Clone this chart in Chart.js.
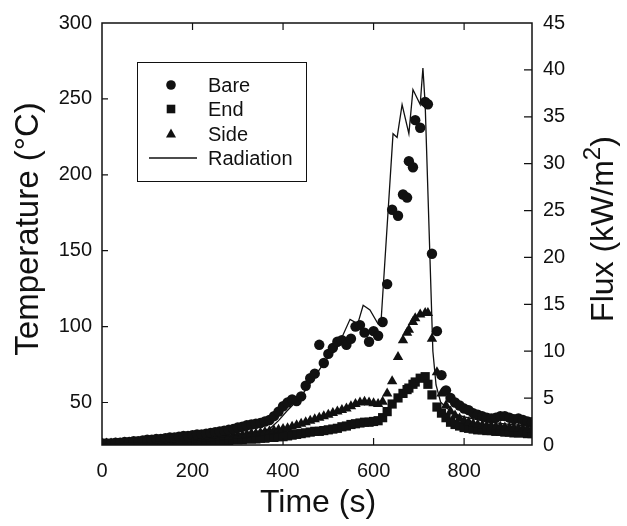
<!DOCTYPE html>
<html lang="en">
<head>
<meta charset="UTF-8">
<title>Temperature and radiation</title>
<style>
  body { margin: 0; background: #fff; }
  #wrap { width: 627px; height: 526px; }
</style>
</head>
<body>
<div id="wrap"><canvas id="myChart" width="627" height="526"></canvas></div>

<script src="https://cdn.jsdelivr.net/npm/chart.js"></script>
<script>
// thermocouple readings, time in s
let v_time = [0, 10, 20, 30, 40, 50, 60, 70, 80, 90, 100, 110, 120, 130, 140, 150, 160, 170, 180, 190,
    200, 210, 220, 230, 240, 250, 260, 270, 280, 290, 300, 310, 320, 330, 340, 350, 360, 370, 380, 390,
    400, 410, 420, 430, 440, 450, 460, 470, 480, 490, 500, 510, 520, 530, 540, 550, 560, 570, 580, 590,
    600, 610, 620, 630, 641, 654, 665, 674, 678, 687, 692, 703, 714, 720, 729,
    740, 750, 760, 770, 780, 790, 800, 810, 820, 830, 840, 850, 860, 870, 880, 890, 900, 910, 920, 930, 940, 950];

let v_bare = [23, 23, 23, 23.5, 23.5, 24, 24, 24.5, 24.5, 25, 25.5, 25.5, 26, 26, 26.5, 27, 27, 27.5, 28, 28,
    28.5, 29, 29, 29.5, 30, 30.5, 31, 31.5, 32, 32.5, 33.5, 34, 35, 35.5, 36, 36.5, 37.5, 38.5, 41, 44,
    47.5, 50, 52, 51, 54, 61, 66, 69, 88, 76, 82, 86, 90, 91, 88, 92, 100, 101, 96, 90,
    97, 94, 103, 128, 177, 173, 187, 185, 209, 205, 236, 231, 248, 246.5, 148,
    97, 68, 58, 53, 50, 48, 46, 45, 43, 42, 41, 40, 39.5, 40, 41, 41, 40, 39, 39.5, 38.5, 37.5, 37];

let v_end = [23, 23, 23, 23, 23, 23, 23, 23, 23, 23, 23, 23, 23.5, 23.5, 23.5, 23.5, 23.5, 24, 24, 24,
    24, 24, 24.5, 24.5, 24.5, 24.5, 25, 25, 25, 25.5, 25.5, 25.5, 26, 26, 26, 26.5, 26.5, 27, 27, 27.5,
    27.5, 28, 28.5, 29, 29.5, 30, 30.5, 31, 31, 31.5, 32, 32.5, 33, 34, 34.5, 35.5, 36, 36.5, 37, 37,
    37.5, 38, 40, 44, 49, 53, 56, 58.5, 59.5, 62, 63.5, 66, 67, 62, 55,
    47, 43, 40, 37, 35.5, 34.5, 33.5, 33, 32.5, 32, 32, 31.5, 31.5, 31, 31, 30.5, 30.5, 30, 30, 30, 29.5, 29.5];

let v_side = [23, 23, 23, 23, 23, 23.5, 23.5, 23.5, 23.5, 24, 24, 24, 24, 24.5, 24.5, 24.5, 25, 25, 25, 25.5,
    25.5, 26, 26, 26.5, 26.5, 27, 27, 27.5, 27.5, 28, 28.5, 28.5, 29, 29.5, 29.5, 30, 30.5, 31, 31.5, 32,
    32.5, 33, 34, 35, 36, 37, 38, 39, 40, 41, 42, 43, 44, 45, 46, 47.5, 49, 50, 50.5, 50,
    49.5, 49, 50.5, 56, 64, 80, 91, 96, 98, 103, 105.5, 108, 109, 109, 92,
    70, 56, 48, 44, 41.5, 39.5, 38, 37, 36, 35.5, 35, 34.5, 34.5, 34, 34, 33.5, 33.5, 33, 33, 32.5, 32.5, 32];

// radiation flux, kW/m2
let v_radTime = [0, 100, 200, 250, 300, 340, 370, 390, 408, 422, 440, 466, 480, 497, 510, 521, 548, 559, 563,
    577, 592, 610, 616, 643, 652, 663, 678, 687, 703, 709, 714, 731, 738, 748, 760, 780, 800, 820, 850, 880, 900, 950];
let v_radFlux = [0.1, 0.2, 0.5, 0.8, 1.1, 1.4, 1.7, 2.6, 3.6, 4.3, 5.2, 7.0, 8.0, 9.2, 9.8, 10.5, 13.4, 13.1, 12.6,
    14.9, 14.4, 12.9, 12.8, 33.2, 32.8, 36.3, 33.2, 37.9, 36.3, 40.2, 36.3, 10, 6.4, 4.6, 4.0, 3.3, 3.0, 2.8, 2.5, 2.3, 2.2, 2.0];

let v_xTicks = [0, 200, 400, 600, 800];
let v_tempTicks = [50, 100, 150, 200, 250, 300];
let v_fluxTicks = [0, 5, 10, 15, 20, 25, 30, 35, 40, 45];

let v_font = '"Liberation Sans", Arial, sans-serif';
let v_ink = '#111';

function toPoints(xs, ys) {
    return xs.map((x, i) => ({ x: x, y: ys[i] }));
}

// marker shapes for the legend box
function drawMark(ctx, style, x, y) {
    ctx.beginPath();
    if (style === 'circle') {
        ctx.arc(x, y, 4.8, 0, Math.PI * 2);
    } else if (style === 'rect') {
        ctx.rect(x - 4.3, y - 4.3, 8.6, 8.6);
    } else {
        ctx.moveTo(x, y - 5.5);
        ctx.lineTo(x + 5, y + 3.5);
        ctx.lineTo(x - 5, y + 3.5);
        ctx.closePath();
    }
    ctx.fill();
}

// frame, inward ticks, axis titles and the legend box
const v_frame = {
    id: 'frame',
    afterDraw(chart) {
        const ctx = chart.ctx;
        const a = chart.chartArea;
        const sx = chart.scales.x, sT = chart.scales.yT, sF = chart.scales.yF;
        ctx.save();
        ctx.strokeStyle = v_ink;
        ctx.fillStyle = v_ink;
        ctx.lineWidth = 1.5;
        ctx.strokeRect(a.left, a.top, a.right - a.left, a.bottom - a.top);

        ctx.lineWidth = 1.2;
        ctx.beginPath();
        v_xTicks.forEach(v => {
            if (v === 0) return;
            const px = sx.getPixelForValue(v);
            ctx.moveTo(px, a.bottom); ctx.lineTo(px, a.bottom - 7);
            ctx.moveTo(px, a.top); ctx.lineTo(px, a.top + 7);
        });
        v_tempTicks.forEach(v => {
            if (v === 300) return;
            const py = sT.getPixelForValue(v);
            ctx.moveTo(a.left, py); ctx.lineTo(a.left + 6, py);
        });
        v_fluxTicks.forEach(v => {
            if (v === 0 || v === 45) return;
            const py = sF.getPixelForValue(v);
            ctx.moveTo(a.right, py); ctx.lineTo(a.right - 8, py);
        });
        ctx.stroke();

        // axis titles
        ctx.font = '32px ' + v_font;
        ctx.textAlign = 'center';
        ctx.textBaseline = 'middle';
        ctx.fillText('Time (s)', 318, 503);

        ctx.save();
        ctx.translate(29, 229);
        ctx.rotate(-Math.PI / 2);
        ctx.font = '33px ' + v_font;
        ctx.fillText('Temperature (\u00B0C)', 0, 0);
        ctx.restore();

        ctx.save();
        ctx.translate(604, 229);
        ctx.rotate(-Math.PI / 2);
        ctx.textAlign = 'left';
        let p1 = 'Flux (kW/m', p2 = '2', p3 = ')';
        ctx.font = '32px ' + v_font;
        let w1 = ctx.measureText(p1).width, w3 = ctx.measureText(p3).width;
        ctx.font = '24px ' + v_font;
        let w2 = ctx.measureText(p2).width;
        let x0 = -(w1 + w2 + w3) / 2;
        ctx.font = '32px ' + v_font;
        ctx.fillText(p1, x0, 0);
        ctx.font = '24px ' + v_font;
        ctx.fillText(p2, x0 + w1, -11);
        ctx.font = '32px ' + v_font;
        ctx.fillText(p3, x0 + w1 + w2, 0);
        ctx.restore();

        // legend
        ctx.lineWidth = 1;
        ctx.strokeRect(137.5, 62.5, 169, 119);
        ctx.font = '20px ' + v_font;
        ctx.textAlign = 'left';
        const rows = [['Bare', 'circle', 85], ['End', 'rect', 109], ['Side', 'triangle', 134], ['Radiation', 'line', 158]];
        rows.forEach(r => {
            if (r[1] === 'line') {
                ctx.lineWidth = 1.3;
                ctx.beginPath();
                ctx.moveTo(149, r[2]); ctx.lineTo(197, r[2]);
                ctx.stroke();
            } else {
                drawMark(ctx, r[1], 171, r[2]);
            }
            ctx.fillText(r[0], 208, r[2] + 1);
        });
        ctx.restore();
    }
};

let ctx = document.getElementById('myChart');
new Chart(ctx, {
    type: 'scatter',
    data: {
        datasets: [{
            label: 'Radiation',
            type: 'line',
            data: toPoints(v_radTime, v_radFlux),
            yAxisID: 'yF',
            borderColor: v_ink,
            borderWidth: 1.3,
            pointRadius: 0,
            showLine: true,
            fill: false,
            tension: 0
        }, {
            label: 'Bare',
            data: toPoints(v_time, v_bare),
            yAxisID: 'yT',
            pointStyle: 'circle',
            pointRadius: 5.2,
            backgroundColor: v_ink,
            borderWidth: 0
        }, {
            label: 'Side',
            data: toPoints(v_time, v_side),
            yAxisID: 'yT',
            pointStyle: 'triangle',
            pointRadius: 6,
            backgroundColor: v_ink,
            borderWidth: 0
        }, {
            label: 'End',
            data: toPoints(v_time, v_end),
            yAxisID: 'yT',
            pointStyle: 'rect',
            pointRadius: 6.5,
            backgroundColor: v_ink,
            borderWidth: 0
        }]
    },
    options: {
        responsive: false,
        animation: false,
        layout: { padding: { top: 19, left: 0, right: 0, bottom: 0 } },
        plugins: { legend: { display: false }, tooltip: { enabled: false } },
        scales: {
            x: {
                type: 'linear', min: 0, max: 950,
                afterFit(s) { s.height = 81; },
                afterBuildTicks(s) { s.ticks = v_xTicks.map(v => ({ value: v })); },
                grid: { display: false, drawTicks: false },
                border: { display: false },
                ticks: { font: { family: v_font, size: 20 }, color: v_ink, padding: 14, maxRotation: 0 }
            },
            yT: {
                type: 'linear', position: 'left', min: 22, max: 300,
                afterFit(s) { s.width = 102; },
                afterBuildTicks(s) { s.ticks = v_tempTicks.map(v => ({ value: v })); },
                grid: { display: false, drawTicks: false },
                border: { display: false },
                ticks: { font: { family: v_font, size: 20 }, color: v_ink, padding: 10 }
            },
            yF: {
                type: 'linear', position: 'right', min: 0, max: 45,
                afterFit(s) { s.width = 95; },
                afterBuildTicks(s) { s.ticks = v_fluxTicks.map(v => ({ value: v })); },
                grid: { display: false, drawTicks: false },
                border: { display: false },
                ticks: { font: { family: v_font, size: 20 }, color: v_ink, padding: 11 }
            }
        }
    },
    plugins: [v_frame]
});
</script>
</body>
</html>
